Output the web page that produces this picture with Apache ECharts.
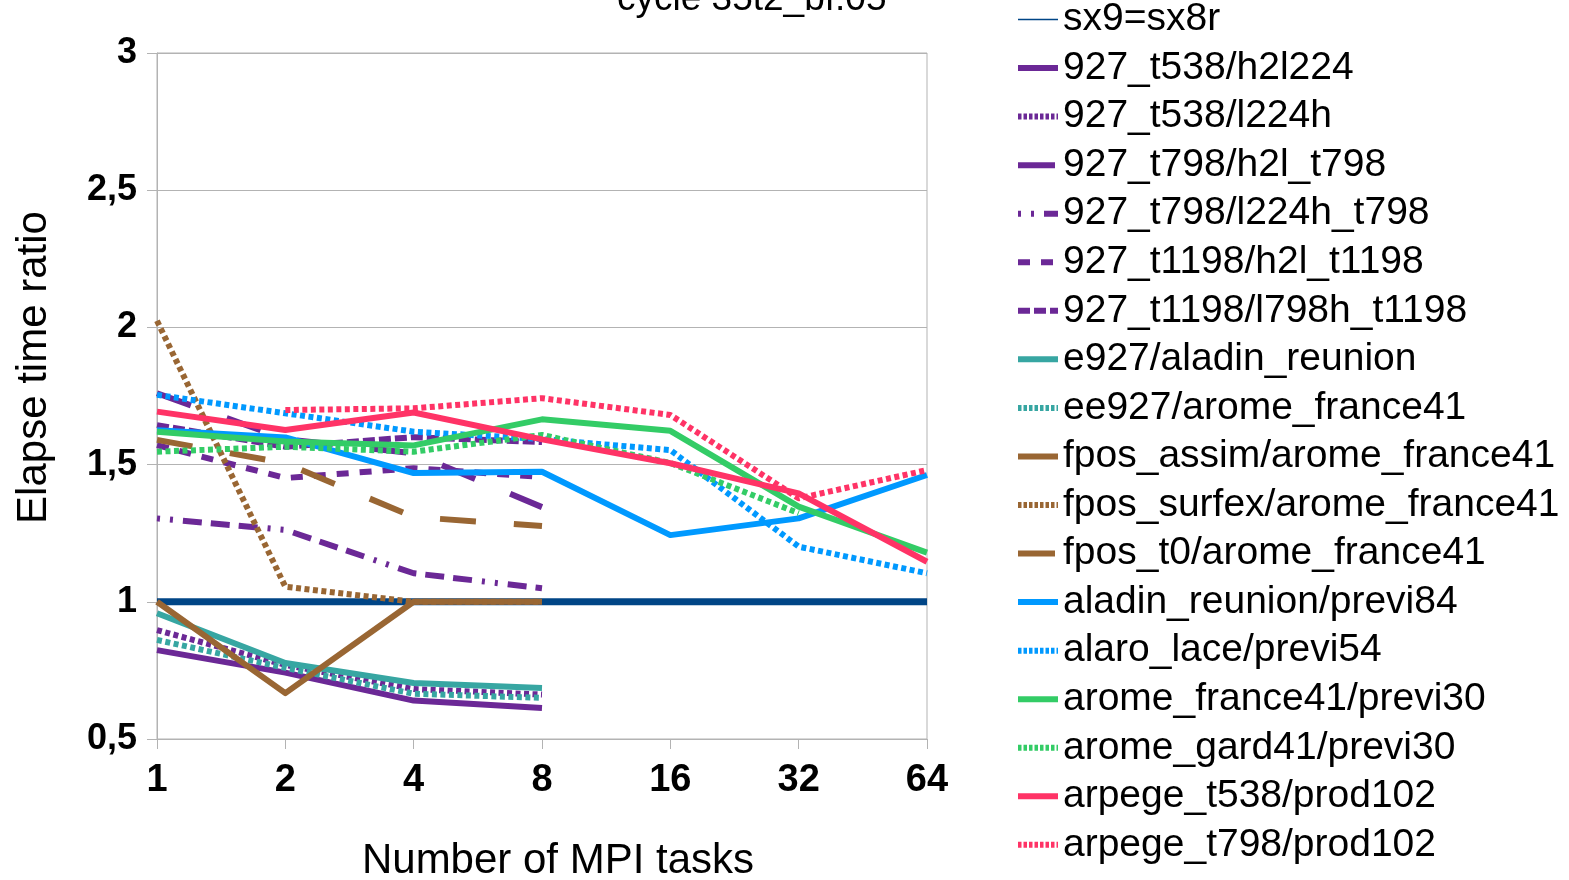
<!DOCTYPE html>
<html>
<head>
<meta charset="utf-8">
<title>Elapse time ratio</title>
<script src="https://cdn.jsdelivr.net/npm/echarts@6/dist/echarts.min.js"></script>
<style>
  html, body { margin: 0; padding: 0; background: #fff; }
  #chart { width: 1569px; height: 880px; }
</style>
</head>
<body>
<div id="chart"></div>
<script>
// x categories (number of MPI tasks)
const mpiTasks = ['1', '2', '4', '8', '16', '32', '64'];

// elapse time ratios
const sx9_sx8r = [1, 1, 1, 1, 1, 1, 1];
const t538_h2l224 = [0.824, 0.742, 0.640, 0.613];
const t538_l224h = [0.897, 0.770, 0.682, 0.662];
const t798_h2l = [1.760, 1.593, 1.541, 1.345];
const t798_l224h = [1.304, 1.262, 1.104, 1.049];
const t1198_h2l = [1.571, 1.451, 1.487, 1.455];
const t1198_l798h = [1.644, 1.565, 1.600, 1.582];
const e927_aladin = [0.958, 0.777, 0.704, 0.686];
const ee927_arome = [0.861, 0.759, 0.665, 0.650];
const fpos_assim = [1.0, 0.667, 1.0, 1.0];
const fpos_surfex = [2.024, 1.055, 1.0, 1.0];
const fpos_t0 = [1.590, 1.505, 1.309, 1.276];
const aladin_reunion = [1.625, 1.599, 1.469, 1.474, 1.243, 1.304, 1.462];
const alaro_lace = [1.754, 1.687, 1.620, 1.593, 1.553, 1.201, 1.104];
const arome_france = [1.620, 1.584, 1.570, 1.665, 1.623, 1.347, 1.179];
const arome_gard = [1.547, 1.565, 1.547, 1.608, 1.506, 1.323, null];
const arpege_t538 = [1.693, 1.626, 1.690, 1.592, 1.505, 1.395, 1.146];
const arpege_t798 = [null, 1.699, 1.705, 1.742, 1.681, 1.377, 1.480];

const NAVY = '#004586', PURPLE = '#6b2896', TEAL = '#37a6a2', BROWN = '#996633';
const BLUE = '#0099ff', GREEN = '#33cc66', PINK = '#ff3366';

// dash patterns (px)
const DOT = [5, 3.5];
const LONG = [36, 38];
const MID = [12, 11];
const SHORT = [12, 4];
const DASHDOT = [3, 10, 3, 10, 19, 9, 19, 9, 19, 10];

const lines = [
	{ name: 'sx9=sx8r', data: sx9_sx8r, color: NAVY, width: 7, dash: 'solid', legendWidth: 1.5 },
	{ name: '927_t538/h2l224', data: t538_h2l224, color: PURPLE, dash: 'solid' },
	{ name: '927_t538/l224h', data: t538_l224h, color: PURPLE, dash: DOT },
	{ name: '927_t798/h2l_t798', data: t798_h2l, color: PURPLE, dash: LONG },
	{ name: '927_t798/l224h_t798', data: t798_l224h, color: PURPLE, dash: DASHDOT },
	{ name: '927_t1198/h2l_t1198', data: t1198_h2l, color: PURPLE, dash: MID },
	{ name: '927_t1198/l798h_t1198', data: t1198_l798h, color: PURPLE, dash: SHORT },
	{ name: 'e927/aladin_reunion', data: e927_aladin, color: TEAL, dash: 'solid' },
	{ name: 'ee927/arome_france41', data: ee927_arome, color: TEAL, dash: DOT },
	{ name: 'fpos_assim/arome_france41', data: fpos_assim, color: BROWN, dash: 'solid' },
	{ name: 'fpos_surfex/arome_france41', data: fpos_surfex, color: BROWN, dash: DOT },
	{ name: 'fpos_t0/arome_france41', data: fpos_t0, color: BROWN, dash: LONG },
	{ name: 'aladin_reunion/previ84', data: aladin_reunion, color: BLUE, dash: 'solid' },
	{ name: 'alaro_lace/previ54', data: alaro_lace, color: BLUE, dash: DOT },
	{ name: 'arome_france41/previ30', data: arome_france, color: GREEN, dash: 'solid' },
	{ name: 'arome_gard41/previ30', data: arome_gard, color: GREEN, dash: DOT },
	{ name: 'arpege_t538/prod102', data: arpege_t538, color: PINK, dash: 'solid' },
	{ name: 'arpege_t798/prod102', data: arpege_t798, color: PINK, dash: DOT }
];

// legend icons use finer dots and show the long dash as one stroke
const legendDash = d => d === DOT ? [3.5, 2] : d === LONG ? [37, 10] : d;

const chart = echarts.init(document.getElementById('chart'), null, { renderer: 'canvas' });

const axisGrey = '#b3b3b3';
const font = "'Liberation Sans', Arial, sans-serif";

chart.setOption({
	animation: false,
	backgroundColor: '#fff',
	title: {
		text: 'cycle 35t2_bf.05',
		left: 617,
		top: -19,
		padding: 0,
		textStyle: { fontFamily: font, fontSize: 37, fontWeight: 'normal', color: '#000', lineHeight: 37 }
	},
	legend: {
		orient: 'vertical',
		left: 1015,
		top: 0,
		padding: 0,
		itemWidth: 40,
		itemHeight: 14,
		itemGap: 9.55,
		selectedMode: false,
		itemStyle: { color: 'rgba(0,0,0,0)', borderWidth: 0, opacity: 0 },
		textStyle: { fontFamily: font, fontSize: 39, color: '#000', lineHeight: 39 },
		data: lines.map(l => ({
			name: l.name,
			lineStyle: { width: l.legendWidth || 6, type: legendDash(l.dash), cap: 'butt' }
		}))
	},
	grid: {
		left: 157,
		right: 642,
		top: 53,
		bottom: 141,
		containLabel: false,
		outerBoundsMode: 'none',
		show: true,
		borderColor: axisGrey,
		borderWidth: 1
	},
	xAxis: {
		type: 'category',
		data: mpiTasks,
		boundaryGap: false,
		name: 'Number of MPI tasks',
		nameLocation: 'middle',
		nameGap: 101,
		nameTextStyle: { fontFamily: font, fontSize: 42, color: '#000', lineHeight: 42, padding: [0, 0, 0, 32] },
		axisLine: { lineStyle: { color: axisGrey, width: 1 } },
		axisTick: { show: true, length: 10, inside: false, lineStyle: { color: axisGrey } },
		axisLabel: {
			margin: 23,
			fontFamily: "'Liberation Sans Narrow', 'Arial Narrow', 'Liberation Sans', sans-serif",
			fontSize: 38,
			lineHeight: 38,
			fontWeight: 'bold',
			color: '#000'
		},
		splitLine: { show: false }
	},
	yAxis: {
		type: 'value',
		min: 0.5,
		max: 3,
		interval: 0.5,
		name: 'Elapse time ratio',
		nameLocation: 'middle',
		nameGap: 102,
		nameTextStyle: { fontFamily: font, fontSize: 42, color: '#000', lineHeight: 42, padding: [0, 0, 0, 57] },
		axisLine: { show: true, lineStyle: { color: axisGrey, width: 1 } },
		axisTick: { show: true, length: 10, inside: false, lineStyle: { color: axisGrey } },
		axisLabel: {
			margin: 20,
			fontFamily: font,
			fontSize: 36,
			fontWeight: 'bold',
			color: '#000',
			formatter: v => String(v).replace('.', ',')
		},
		splitLine: { show: true, lineStyle: { color: axisGrey, width: 1 } }
	},
	series: lines.map(l => ({
		name: l.name,
		type: 'line',
		data: l.data,
		symbol: 'none',
		showSymbol: false,
		connectNulls: false,
		color: l.color,
		lineStyle: { color: l.color, width: l.width || 6, type: l.dash, cap: 'butt', join: 'round' },
		emphasis: { disabled: true }
	}))
});
</script>
</body>
</html>
